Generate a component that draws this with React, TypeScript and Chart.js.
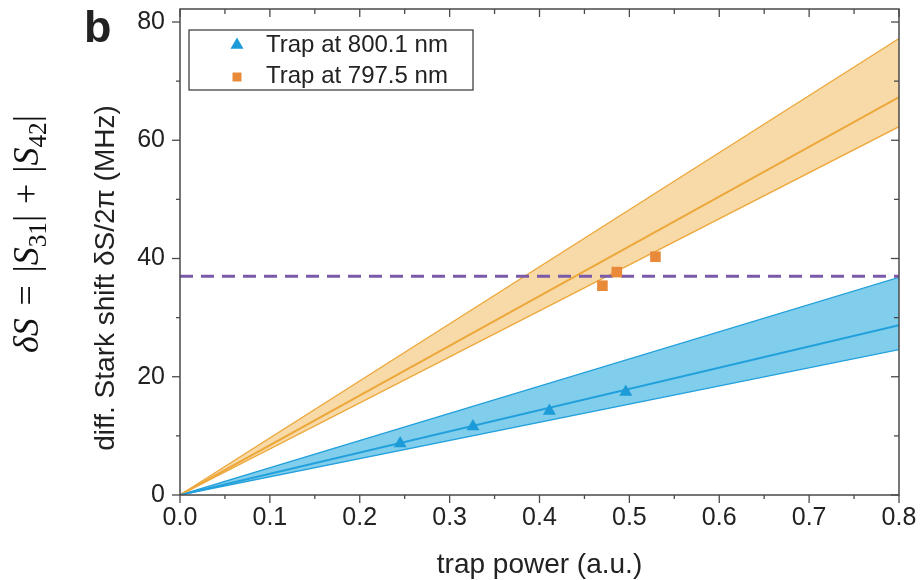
import React, { useEffect, useRef } from 'react';
import { Chart, registerables } from 'chart.js';

Chart.register(...registerables);

// ---- data ----
const xTicks = [0, 0.1, 0.2, 0.3, 0.4, 0.5, 0.6, 0.7, 0.8];
const xMinorTicks = [0.05, 0.15, 0.25, 0.35, 0.45, 0.55, 0.65, 0.75];
const yTicks = [0, 20, 40, 60, 80];
const yMinorTicks = [10, 30, 50, 70];
const xMin = 0;
const xMax = 0.8;
const yMin = 0;
const yMax = 82.2;

const fitX = [0, 0.8];
const blueFit = [0, 28.7];
const blueUpper = [0, 36.8];
const blueLower = [0, 24.6];
const orangeFit = [0, 67.3];
const orangeUpper = [0, 77.2];
const orangeLower = [0, 62.3];
const thresholdY = [37.0, 37.0];

const blueX = [0.245, 0.326, 0.411, 0.496];
const blueY = [8.7, 11.6, 14.2, 17.4];
const orangeX = [0.47, 0.486, 0.529];
const orangeY = [35.4, 37.7, 40.3];

const legendLabels = ['Trap at 800.1 nm', 'Trap at 797.5 nm'];
const xTitle = 'trap power (a.u.)';
const yTitle = 'diff. Stark shift \u03b4S/2\u03c0 (MHz)';
const panelLabel = 'b';

// ---- colours ----
const C = {
  blueFill: '#80CDEC',
  blueLine: '#22A0DC',
  bluePt: '#1C9BD8',
  orangeFill: '#F7DAA8',
  orangeLine: '#EDA83C',
  orangePt: '#E98A3A',
  purple: '#7A5AA8',
  axis: '#4A4A4A',
  text: '#222222',
};

const pts = (xs: number[], ys: number[]) => xs.map((x, i) => ({ x, y: ys[i] }));

const decorPlugin = {
  id: 'decor',
  afterDatasetsDraw(chart: any) {
    const { ctx, chartArea: a, scales } = chart;
    const xs = scales.x;
    const ys = scales.y;
    ctx.save();
    ctx.strokeStyle = C.axis;
    ctx.lineWidth = 1.5;
    ctx.strokeRect(a.left, a.top, a.right - a.left, a.bottom - a.top);
    ctx.lineWidth = 1.3;
    const tick = (x1: number, y1: number, x2: number, y2: number) => {
      ctx.beginPath();
      ctx.moveTo(x1, y1);
      ctx.lineTo(x2, y2);
      ctx.stroke();
    };
    xTicks.forEach((v) => {
      const p = xs.getPixelForValue(v);
      tick(p, a.bottom, p, a.bottom + 8);
      tick(p, a.top, p, a.top + 8);
    });
    xMinorTicks.forEach((v) => {
      const p = xs.getPixelForValue(v);
      tick(p, a.bottom, p, a.bottom + 4);
      tick(p, a.top, p, a.top + 5);
    });
    yTicks.forEach((v) => {
      const p = ys.getPixelForValue(v);
      tick(a.left - 8, p, a.left, p);
      tick(a.right - 8, p, a.right, p);
    });
    yMinorTicks.forEach((v) => {
      const p = ys.getPixelForValue(v);
      tick(a.left - 4, p, a.left, p);
      tick(a.right - 5, p, a.right, p);
    });
    ctx.restore();
  },
  afterDraw(chart: any) {
    const { ctx } = chart;
    ctx.save();
    // legend
    ctx.strokeStyle = '#333';
    ctx.lineWidth = 1.2;
    ctx.strokeRect(189, 30, 284, 60);
    // triangle
    ctx.fillStyle = C.bluePt;
    const tx = 237, ty = 45, r = 7.5;
    ctx.beginPath();
    ctx.moveTo(tx, ty - r);
    ctx.lineTo(tx + r * 0.866, ty + r / 2);
    ctx.lineTo(tx - r * 0.866, ty + r / 2);
    ctx.closePath();
    ctx.fill();
    ctx.fillStyle = C.orangePt;
    ctx.fillRect(237 - 4.5, 77 - 4.5, 9, 9);
    ctx.fillStyle = C.text;
    ctx.font = '24px "Liberation Sans", Arial, sans-serif';
    ctx.textAlign = 'left';
    ctx.textBaseline = 'alphabetic';
    ctx.fillText(legendLabels[0], 266, 52);
    ctx.fillText(legendLabels[1], 266, 83);

    // panel label
    ctx.font = 'bold 45px "Liberation Sans", Arial, sans-serif';
    ctx.fillText(panelLabel, 84, 42);

    // y title
    ctx.save();
    ctx.translate(106, 278);
    ctx.rotate(-Math.PI / 2);
    ctx.textAlign = 'center';
    ctx.textBaseline = 'middle';
    ctx.font = '28px "Liberation Sans", Arial, sans-serif';
    ctx.fillStyle = C.text;
    ctx.fillText(yTitle, 0, 0);
    ctx.restore();

    // formula  δS = |S31| + |S42|
    const base = 28;
    type Piece = { t: string; kind: 'it' | 'rm' | 'sub'; gap?: number };
    const pieces: Piece[] = [
      { t: '\u03b4', kind: 'it' },
      { t: 'S', kind: 'it' },
      { t: '=', kind: 'rm', gap: 0.35 },
      { t: '|', kind: 'rm', gap: 0.35 },
      { t: 'S', kind: 'it' },
      { t: '31', kind: 'sub' },
      { t: '|', kind: 'rm' },
      { t: '+', kind: 'rm', gap: 0.3 },
      { t: '|', kind: 'rm', gap: 0.3 },
      { t: 'S', kind: 'it' },
      { t: '42', kind: 'sub' },
      { t: '|', kind: 'rm' },
    ];
    const fontFor = (k: string, s: number) =>
      k === 'it'
        ? `italic ${s}px "Liberation Serif", "DejaVu Serif", serif`
        : k === 'sub'
        ? `${s * 0.7}px "Liberation Serif", "DejaVu Serif", serif`
        : `${s}px "Liberation Serif", "DejaVu Serif", serif`;
    const measure = (s: number) => {
      let w = 0;
      pieces.forEach((p) => {
        ctx.font = fontFor(p.kind, s);
        w += (p.gap || 0) * s + ctx.measureText(p.t).width;
      });
      return w;
    };
    const total = measure(base);
    const size = base * (238 / total);
    ctx.save();
    ctx.translate(38, 353);
    ctx.rotate(-Math.PI / 2);
    ctx.fillStyle = '#111';
    ctx.textAlign = 'left';
    ctx.textBaseline = 'alphabetic';
    let cx = 0;
    pieces.forEach((p) => {
      ctx.font = fontFor(p.kind, size);
      cx += (p.gap || 0) * size;
      const dy = p.kind === 'sub' ? size * 0.22 : 0;
      ctx.fillText(p.t, cx, dy);
      cx += ctx.measureText(p.t).width;
    });
    ctx.restore();

    ctx.restore();
  },
};

export default function App() {
  const ref = useRef<HTMLCanvasElement>(null);
  useEffect(() => {
    if (!ref.current) return;
    const chart = new Chart(ref.current, {
      type: 'line',
      data: {
        datasets: [
          {
            label: 'blueUpper',
            data: pts(fitX, blueUpper),
            borderColor: C.blueLine,
            borderWidth: 1.3,
            backgroundColor: C.blueFill,
            fill: '+1',
            pointRadius: 0,
            order: 10,
          },
          {
            label: 'blueLower',
            data: pts(fitX, blueLower),
            borderColor: C.blueLine,
            borderWidth: 1.3,
            fill: false,
            pointRadius: 0,
            order: 9,
          },
          {
            label: 'orangeUpper',
            data: pts(fitX, orangeUpper),
            borderColor: C.orangeLine,
            borderWidth: 1.3,
            backgroundColor: C.orangeFill,
            fill: '+1',
            pointRadius: 0,
            order: 10,
          },
          {
            label: 'orangeLower',
            data: pts(fitX, orangeLower),
            borderColor: C.orangeLine,
            borderWidth: 1.3,
            fill: false,
            pointRadius: 0,
            order: 9,
          },
          {
            label: 'blueFit',
            data: pts(fitX, blueFit),
            borderColor: C.blueLine,
            borderWidth: 2,
            fill: false,
            pointRadius: 0,
            order: 5,
          },
          {
            label: 'orangeFit',
            data: pts(fitX, orangeFit),
            borderColor: C.orangeLine,
            borderWidth: 2,
            fill: false,
            pointRadius: 0,
            order: 5,
          },
          {
            label: 'threshold',
            data: pts(fitX, thresholdY),
            borderColor: C.purple,
            borderWidth: 3,
            borderDash: [13, 8],
            fill: false,
            pointRadius: 0,
            order: 3,
          },
          {
            label: legendLabels[0],
            data: pts(blueX, blueY),
            showLine: false,
            pointStyle: 'triangle',
            pointRadius: 7.5,
            pointBackgroundColor: C.bluePt,
            pointBorderColor: C.bluePt,
            pointBorderWidth: 0,
            order: 1,
          },
          {
            label: legendLabels[1],
            data: pts(orangeX, orangeY),
            showLine: false,
            pointStyle: 'rect',
            pointRadius: 7.5,
            pointBackgroundColor: C.orangePt,
            pointBorderColor: C.orangePt,
            pointBorderWidth: 0,
            order: 1,
          },
        ],
      },
      options: {
        animation: false,
        responsive: false,
        devicePixelRatio: 1,
        layout: { padding: { left: 0, right: 22, top: 9, bottom: 0 } },
        plugins: {
          legend: { display: false },
          tooltip: { enabled: false },
          filler: { drawTime: 'beforeDatasetsDraw' },
        },
        scales: {
          x: {
            type: 'linear',
            min: xMin,
            max: xMax,
            afterBuildTicks: (s: any) => {
              s.ticks = xTicks.map((v) => ({ value: v }));
            },
            afterFit: (s: any) => {
              s.height = 85;
              s.paddingLeft = 0;
              s.paddingRight = 0;
            },
            grid: { display: false, drawTicks: false },
            border: { display: false },
            ticks: {
              padding: 8,
              color: C.text,
              font: { family: '"Liberation Sans", Arial, sans-serif', size: 25 },
              callback: (v: any) => Number(v).toFixed(1),
              maxRotation: 0,
              autoSkip: false,
            },
            title: {
              display: true,
              text: xTitle,
              color: C.text,
              font: { family: '"Liberation Sans", Arial, sans-serif', size: 28, lineHeight: 1 },
              padding: { top: 0, bottom: 1 },
            },
          },
          y: {
            type: 'linear',
            min: yMin,
            max: yMax,
            afterBuildTicks: (s: any) => {
              s.ticks = yTicks.map((v) => ({ value: v }));
            },
            afterFit: (s: any) => {
              s.width = 180;
              s.paddingTop = 0;
              s.paddingBottom = 0;
            },
            grid: { display: false, drawTicks: false },
            border: { display: false },
            ticks: {
              padding: 15,
              color: C.text,
              font: { family: '"Liberation Sans", Arial, sans-serif', size: 25 },
              autoSkip: false,
            },
          },
        },
      },
      plugins: [decorPlugin],
    } as any);
    return () => chart.destroy();
  }, []);
  return (
    <div style={{ position: 'fixed', left: 0, top: 0, width: 921, height: 580, background: '#fff' }}>
      <canvas ref={ref} width={921} height={580} style={{ display: 'block', width: 921, height: 580 }} />
    </div>
  );
}
